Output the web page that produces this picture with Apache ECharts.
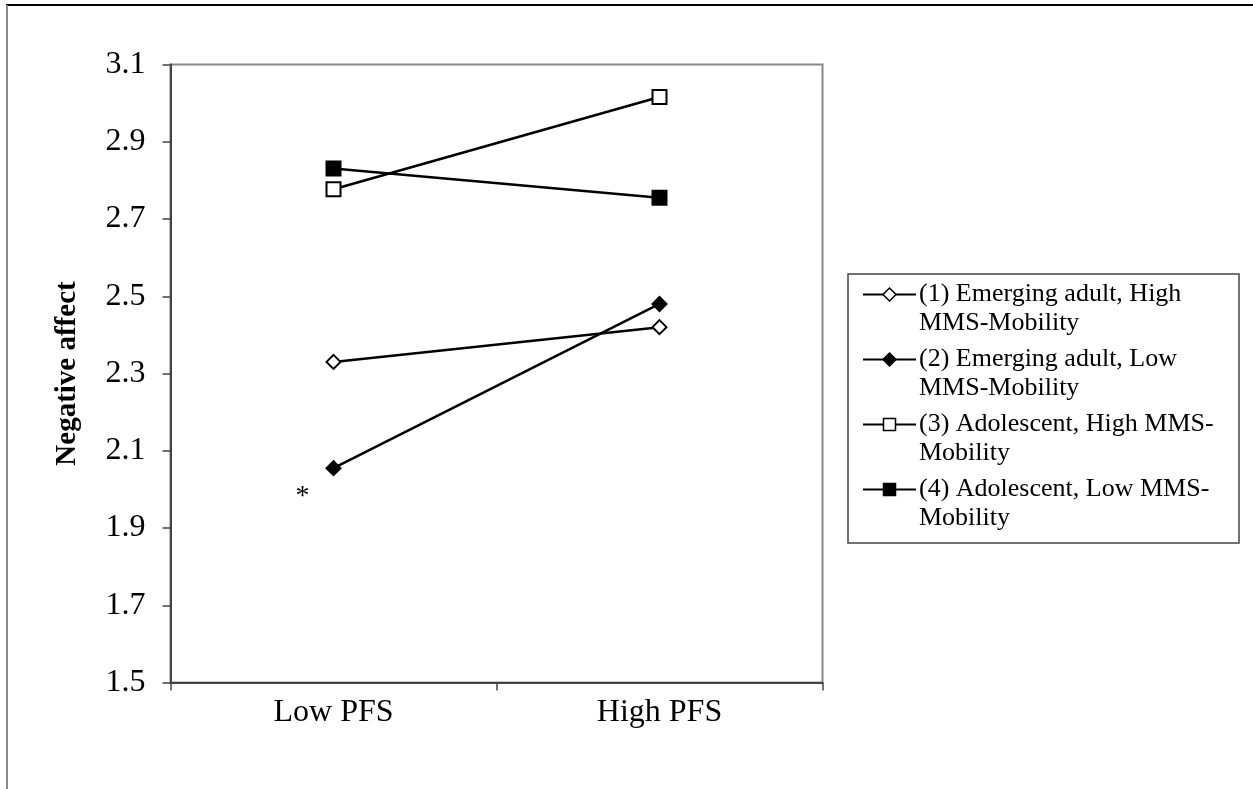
<!DOCTYPE html>
<html>
<head>
<meta charset="utf-8">
<script src="https://cdn.jsdelivr.net/npm/echarts@6/dist/echarts.min.js"></script>
<style>
  html, body { margin: 0; padding: 0; background: #fff; }
  #chart { width: 1253px; height: 789px; }
</style>
</head>
<body>
<div id="chart"></div>
<script>
// Categories on the x axis
const categories = ['Low PFS', 'High PFS'];

// Negative affect by group
const seriesNames = [
  '(1) Emerging adult, High MMS-Mobility',
  '(2) Emerging adult, Low MMS-Mobility',
  '(3) Adolescent, High MMS-Mobility',
  '(4) Adolescent, Low MMS-Mobility'
];
const legendLines = [
  ['(1) Emerging adult, High', 'MMS-Mobility'],
  ['(2) Emerging adult, Low', 'MMS-Mobility'],
  ['(3) Adolescent, High MMS-', 'Mobility'],
  ['(4) Adolescent, Low MMS-', 'Mobility']
];
const emergingHigh = [2.33, 2.42];
const emergingLow = [2.055, 2.48];
const adolescentHigh = [2.777, 3.016];
const adolescentLow = [2.831, 2.755];

// Y axis ticks
const yMin = 1.5, yMax = 3.1, yStep = 0.2;

// Significance marker
const starText = '*';
const starValue = 1.99;

const FONT = '"Liberation Serif", "Times New Roman", serif';

const markers = [
  { shape: 'diamond', filled: false },
  { shape: 'diamond', filled: true },
  { shape: 'rect', filled: false },
  { shape: 'rect', filled: true }
];
const values = [emergingHigh, emergingLow, adolescentHigh, adolescentLow];

const chart = echarts.init(document.getElementById('chart'), null, { renderer: 'canvas' });

const series = values.map((vals, i) => ({
  name: seriesNames[i],
  type: 'line',
  data: vals,
  symbol: markers[i].shape,
  symbolSize: 14,
  showSymbol: true,
  animation: false,
  z: markers[i].filled ? 3 : 2,
  lineStyle: { color: '#000', width: 2.5 },
  itemStyle: {
    color: markers[i].filled ? '#000' : '#fff',
    borderColor: '#000',
    borderWidth: 2
  }
}));

// Legend drawn as a boxed list with line + marker swatches
function legendGraphics() {
  const els = [];
  const boxX = 848, boxY = 274, boxW = 391, boxH = 269;
  els.push({
    type: 'rect',
    shape: { x: boxX, y: boxY, width: boxW, height: boxH },
    style: { fill: '#fff', stroke: '#444', lineWidth: 1.5 },
    z: 10
  });
  const firstY = 294.5, itemGap = 65, lineH = 29;
  legendLines.forEach((lines, i) => {
    const cy = firstY + i * itemGap;
    els.push({
      type: 'line',
      shape: { x1: 863, y1: cy, x2: 916, y2: cy },
      style: { stroke: '#000', lineWidth: 2 },
      z: 11
    });
    const m = markers[i];
    const fill = m.filled ? '#000' : '#fff';
    if (m.shape === 'rect') {
      els.push({
        type: 'rect',
        shape: { x: 889.5 - 6, y: cy - 6, width: 12, height: 12 },
        style: { fill: fill, stroke: '#000', lineWidth: 1.5 },
        z: 12
      });
    } else {
      const r = 6.5;
      els.push({
        type: 'polygon',
        shape: { points: [[889.5, cy - r], [889.5 + r, cy], [889.5, cy + r], [889.5 - r, cy]] },
        style: { fill: fill, stroke: '#000', lineWidth: 1.5 },
        z: 12
      });
    }
    lines.forEach((t, k) => {
      els.push({
        type: 'text',
        x: 919,
        y: cy + k * lineH,
        style: {
          text: t,
          font: '26px ' + FONT,
          fill: '#000',
          verticalAlign: 'middle',
          align: 'left'
        },
        z: 12
      });
    });
  });
  return els;
}

// Page frame
const frame = [
  { type: 'line', shape: { x1: 6, y1: 5, x2: 1253, y2: 5 }, style: { stroke: '#000', lineWidth: 2 }, z: 1 },
  { type: 'line', shape: { x1: 7, y1: 5, x2: 7, y2: 789 }, style: { stroke: '#888', lineWidth: 2 }, z: 1 }
];

chart.setOption({
  animation: false,
  backgroundColor: '#fff',
  grid: {
    left: 170.5, right: 430.5, top: 64.5, bottom: 106.5,
    show: true, borderColor: '#888', borderWidth: 2, backgroundColor: 'transparent'
  },
  xAxis: {
    type: 'category',
    data: categories,
    boundaryGap: true,
    axisLine: { show: true, lineStyle: { color: '#444', width: 2 } },
    axisTick: { show: true, length: 8, inside: false, lineStyle: { color: '#444', width: 1.5 } },
    axisLabel: { color: '#000', fontFamily: FONT, fontSize: 32, margin: 14 },
    splitLine: { show: false }
  },
  yAxis: {
    type: 'value',
    min: yMin, max: yMax, interval: yStep,
    name: 'Negative affect',
    nameLocation: 'middle',
    nameGap: 88,
    nameRotate: 90,
    nameTextStyle: { color: '#000', fontFamily: FONT, fontSize: 29, fontWeight: 'bold' },
    axisLine: { show: true, lineStyle: { color: '#444', width: 2 } },
    axisTick: { show: true, length: 8, inside: false, lineStyle: { color: '#444', width: 1.5 } },
    axisLabel: {
      color: '#000', fontFamily: FONT, fontSize: 32, margin: 25,
      formatter: v => v.toFixed(1)
    },
    splitLine: { show: false }
  },
  legend: { show: false },
  tooltip: { show: false },
  series: series,
  graphic: frame.concat(legendGraphics())
});

// Place the significance star left of the low-PFS point
const p = chart.convertToPixel({ gridIndex: 0 }, [0, starValue]);
chart.setOption({
  graphic: frame.concat(legendGraphics()).concat([{
    type: 'text',
    x: p[0] - 31,
    y: p[1] + 3,
    style: {
      text: starText,
      font: '28px ' + FONT,
      fill: '#000',
      align: 'center',
      verticalAlign: 'middle'
    },
    z: 5
  }])
});
</script>
</body>
</html>
